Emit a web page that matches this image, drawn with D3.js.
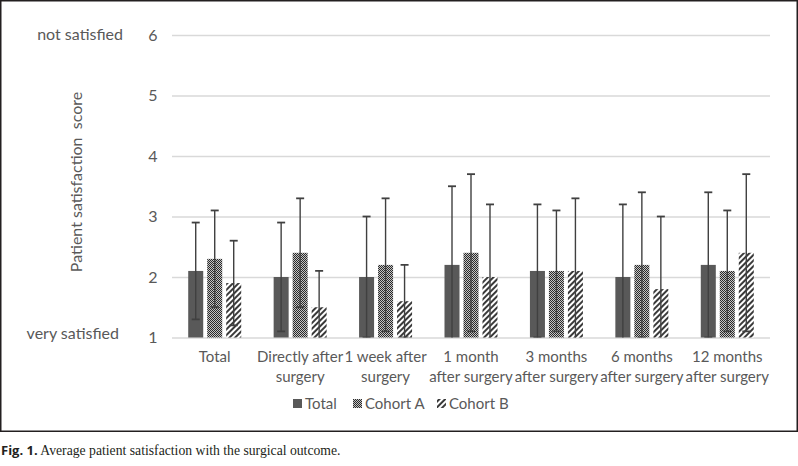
<!DOCTYPE html>
<html>
<head>
<meta charset="utf-8">
<script src="https://cdn.jsdelivr.net/npm/d3@7"></script>
<style>
  html, body { margin: 0; padding: 0; background: #fff; }
  svg { display: block; }
</style>
</head>
<body>
<svg id="chart" width="798" height="466"></svg>
<script>
// ---- data ----
const categories = [
  ["Total"],
  ["Directly after", "surgery"],
  ["1 week after", "surgery"],
  ["1 month", "after surgery"],
  ["3 months", "after surgery"],
  ["6 months", "after surgery"],
  ["12 months", "after surgery"]
];
const seriesNames = ["Total", "Cohort A", "Cohort B"];
const totalMean   = [2.1, 2.0, 2.0, 2.2, 2.1, 2.0, 2.2];
const totalErr    = [0.8, 0.9, 1.0, 1.3, 1.1, 1.2, 1.2];
const cohortAMean = [2.3, 2.4, 2.2, 2.4, 2.1, 2.2, 2.1];
const cohortAErr  = [0.8, 0.9, 1.1, 1.3, 1.0, 1.2, 1.0];
const cohortBMean = [1.9, 1.5, 1.6, 2.0, 2.1, 1.8, 2.4];
const cohortBErr  = [0.7, 0.6, 0.6, 1.2, 1.2, 1.2, 1.3];
const yTicks = [1, 2, 3, 4, 5, 6];

const means = [totalMean, cohortAMean, cohortBMean];
const errs = [totalErr, cohortAErr, cohortBErr];

// ---- layout ----
const svg = d3.select("#chart");
const pLeft = 172, pRight = 770, pTop = 35, pBottom = 337.5;
const textColor = "#595959";
const font = "Lato, 'Open Sans', sans-serif";

const x = d3.scaleBand().domain(d3.range(categories.length)).range([pLeft, pRight]).paddingInner(0).paddingOuter(0);
const xs = d3.scaleBand().domain(d3.range(seriesNames.length)).range([0, 53]).paddingInner(0.21).paddingOuter(0);
const y = d3.scaleLinear().domain([1, 6]).range([pBottom, pTop]);

// patterns
const defs = svg.append("defs");
const pA = defs.append("pattern").attr("id", "patA").attr("patternUnits", "userSpaceOnUse")
  .attr("width", 2).attr("height", 2);
pA.append("rect").attr("width", 2).attr("height", 2).attr("fill", "#c4c4c4");
pA.append("rect").attr("x", 0).attr("y", 0).attr("width", 1).attr("height", 1).attr("fill", "#2a2a2a");
pA.append("rect").attr("x", 1).attr("y", 1).attr("width", 1).attr("height", 1).attr("fill", "#2a2a2a");
const pB = defs.append("pattern").attr("id", "patB").attr("patternUnits", "userSpaceOnUse")
  .attr("width", 4).attr("height", 8).attr("patternTransform", "rotate(45)");
pB.append("rect").attr("width", 4).attr("height", 8).attr("fill", "#fff");
pB.append("line").attr("x1", 1).attr("x2", 1).attr("y1", 0).attr("y2", 8)
  .attr("stroke", "#3a3a3a").attr("stroke-width", 2);
defs.append("clipPath").attr("id", "plotClip").append("rect")
  .attr("x", pLeft).attr("y", 0).attr("width", pRight - pLeft).attr("height", pBottom);

const fills = ["#595959", "url(#patA)", "url(#patB)"];

// frame
svg.append("rect").attr("x", 0.75).attr("y", 0.75).attr("width", 796.5).attr("height", 430.5)
  .attr("fill", "none").attr("stroke", "#231f20").attr("stroke-width", 1.5);

// gridlines + y axis labels
const yAxis = d3.axisLeft(y).tickValues(yTicks).tickSize(-(pRight - pLeft)).tickPadding(14).tickFormat(d3.format("d"));
const gy = svg.append("g").attr("transform", `translate(${pLeft},0)`).call(yAxis);
gy.select(".domain").remove();
gy.selectAll(".tick line").attr("stroke", "#d9d9d9").attr("stroke-width", 1.3);
gy.selectAll(".tick text").attr("fill", textColor).attr("font-size", 16).attr("font-family", font)
  .attr("x", -19).attr("text-anchor", "middle");

// bars
const groups = svg.append("g").selectAll("g.s").data(seriesNames).join("g");
groups.each(function(name, si) {
  const g = d3.select(this);
  g.selectAll("rect").data(means[si]).join("rect")
    .attr("x", (d, i) => x(i) + x.bandwidth() / 2 - 26.5 + xs(si))
    .attr("width", xs.bandwidth())
    .attr("y", d => y(d))
    .attr("height", d => y(1) - y(d))
    .attr("fill", fills[si]);
});

// error bars
const eg = svg.append("g").attr("clip-path", "url(#plotClip)");
seriesNames.forEach((name, si) => {
  means[si].forEach((m, i) => {
    const cx = x(i) + x.bandwidth() / 2 - 26.5 + xs(si) + xs.bandwidth() / 2;
    const hi = m + errs[si][i], lo = m - errs[si][i];
    const ebar = eg.append("g").attr("stroke", "#404040").attr("stroke-width", 1.4);
    ebar.append("line").attr("x1", cx).attr("x2", cx).attr("y1", y(hi)).attr("y2", y(lo));
    ebar.append("line").attr("x1", cx - 4).attr("x2", cx + 4).attr("y1", y(hi)).attr("y2", y(hi)).attr("stroke-width", 1.8);
    ebar.append("line").attr("x1", cx - 4).attr("x2", cx + 4).attr("y1", y(lo)).attr("y2", y(lo)).attr("stroke-width", 1.8);
  });
});

// x labels
const xl = svg.append("g");
categories.forEach((lines, i) => {
  const t = xl.append("text").attr("text-anchor", "middle").attr("fill", textColor)
    .attr("font-size", 15).attr("font-family", font);
  lines.forEach((ln, k) => {
    t.append("tspan").attr("x", x(i) + x.bandwidth() / 2).attr("y", 362 + k * 20).text(ln);
  });
});

// side labels
svg.append("text").attr("x", 123).attr("y", 40).attr("text-anchor", "end").attr("fill", textColor)
  .attr("font-size", 16).attr("font-family", font).text("not satisfied");
svg.append("text").attr("x", 119).attr("y", 339).attr("text-anchor", "end").attr("fill", textColor)
  .attr("font-size", 16).attr("font-family", font).text("very satisfied");
svg.append("text").attr("transform", "translate(82,182) rotate(-90)").attr("text-anchor", "middle")
  .attr("fill", textColor).attr("font-size", 16).attr("font-family", font)
  .style("white-space", "pre").text("Patient satisfaction  score");

// legend
const legX = [293, 353, 437];
const leg = svg.append("g");
seriesNames.forEach((name, si) => {
  leg.append("rect").attr("x", legX[si]).attr("y", 399).attr("width", 9).attr("height", 9).attr("fill", fills[si]);
  leg.append("text").attr("x", legX[si] + 12).attr("y", 409).attr("fill", textColor)
    .attr("font-size", 15).attr("font-family", font).text(name);
});

// caption
const cap = svg.append("text").attr("x", 1).attr("y", 455).attr("font-size", 13.7).attr("fill", "#231f20");
cap.append("tspan").attr("font-family", "'Open Sans', sans-serif").attr("font-weight", "bold").attr("font-size", 13).text("Fig. 1.");
cap.append("tspan").attr("font-family", "'Liberation Serif', serif").text(" Average patient satisfaction with the surgical outcome.");
</script>
</body>
</html>
